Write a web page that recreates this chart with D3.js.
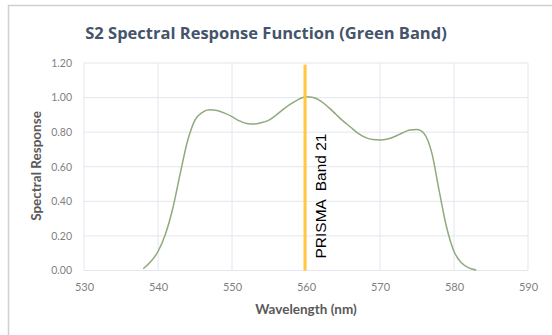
<!DOCTYPE html>
<html><head><meta charset="utf-8">
<script src="https://cdn.jsdelivr.net/npm/d3@7"></script>
<style>body{margin:0;background:#fff}svg{display:block}</style>
</head><body>
<script>
const wavelengths = [538,539,540,541,542,543,544,545,546,547,548,549,550,551,552,553,554,555,556,557,558,559,560,561,562,563,564,565,566,567,568,569,570,571,572,573,574,575,576,577,578,579,580,581,582,583];
const response = [0.01,0.05,0.11,0.21,0.36,0.56,0.75,0.87,0.915,0.93,0.925,0.91,0.89,0.865,0.85,0.847,0.855,0.87,0.90,0.935,0.965,0.99,1.005,1.0,0.98,0.945,0.905,0.865,0.83,0.795,0.77,0.757,0.755,0.76,0.775,0.795,0.812,0.815,0.79,0.68,0.46,0.25,0.11,0.045,0.015,0.003];
const xTicks = [530,540,550,560,570,580,590];
const yTicks = [0,0.2,0.4,0.6,0.8,1.0,1.2];
const markerWavelength = [560];
const markerLabel = "PRISMA  Band 21";
const title = "S2 Spectral Response Function (Green Band)";
const xTitle = "Wavelength (nm)";
const yTitle = "Spectral Response";

const W = 552, H = 335;
const svg = d3.select("body").append("svg").attr("width", W).attr("height", H);
svg.append("rect").attr("x",8.5).attr("y",5.5).attr("width",W).attr("height",H).attr("fill","#fff").attr("stroke","#d0d0d0").attr("stroke-width",1.5);

const x = d3.scaleLinear().domain([530,590]).range([84,528]);
const y = d3.scaleLinear().domain([0,1.2]).range([270.5,63]);

// gridlines
svg.append("g").selectAll("line.h").data(yTicks).join("line")
  .attr("x1",x(530)).attr("x2",x(590)).attr("y1",d=>y(d)).attr("y2",d=>y(d))
  .attr("stroke","#e3e6ee").attr("stroke-width",1);
svg.append("g").selectAll("line.v").data(xTicks).join("line")
  .attr("x1",d=>x(d)).attr("x2",d=>x(d)).attr("y1",y(0)).attr("y2",y(1.2))
  .attr("stroke","#e3e6ee").attr("stroke-width",1);

// axes labels
const xAxis = d3.axisBottom(x).tickValues(xTicks).tickSize(0).tickPadding(13).tickFormat(d3.format("d"));
const gx = svg.append("g").attr("transform",`translate(0,${y(0)})`).call(xAxis);
gx.select(".domain").remove();
gx.selectAll("text").attr("font-family","Lato, 'Open Sans', sans-serif").attr("font-size",11).attr("fill","#7f7f7f");

const yAxis = d3.axisLeft(y).tickValues(yTicks).tickSize(0).tickPadding(12).tickFormat(d3.format(".2f"));
const gy = svg.append("g").attr("transform",`translate(${x(530)},0)`).call(yAxis);
gy.select(".domain").remove();
gy.selectAll("text").attr("font-family","Lato, 'Open Sans', sans-serif").attr("font-size",10.5).attr("fill","#7f7f7f");

// curve
const line = d3.line().x((d,i)=>x(wavelengths[i])).y(d=>y(d)).curve(d3.curveMonotoneX);
svg.append("path").datum(response).attr("d",line).attr("fill","none").attr("stroke","#8faa7c").attr("stroke-width",1.5);

// marker
svg.selectAll("line.m").data(markerWavelength).join("line")
  .attr("x1",d=>x(d)-1).attr("x2",d=>x(d)-1).attr("y1",y(0)).attr("y2",y(1.19))
  .attr("stroke","#ffc83d").attr("stroke-width",3);
svg.selectAll("text.m").data(markerWavelength).join("text")
  .attr("transform",d=>`translate(${x(d)+20},${y(0)-12}) rotate(-90)`)
  .attr("font-family","'Liberation Sans', Arial, sans-serif").attr("font-size",15.5).attr("fill","#000")
  .style("white-space","pre").attr("xml:space","preserve").text(markerLabel);

// titles
svg.append("text").attr("x",266).attr("y",39).attr("text-anchor","middle")
  .attr("font-family","'Open Sans', sans-serif").attr("font-weight","bold").attr("font-size",16.5).attr("fill","#44546a").text(title);
svg.append("text").attr("x",306).attr("y",314).attr("text-anchor","middle")
  .attr("font-family","Lato, 'Open Sans', sans-serif").attr("font-weight","bold").attr("font-size",13.5).attr("fill","#595959").text(xTitle);
svg.append("text").attr("transform","translate(41,166) rotate(-90)").attr("text-anchor","middle")
  .attr("font-family","Lato, 'Open Sans', sans-serif").attr("font-weight","bold").attr("font-size",13.5).attr("fill","#595959").text(yTitle);
</script>
</body></html>
